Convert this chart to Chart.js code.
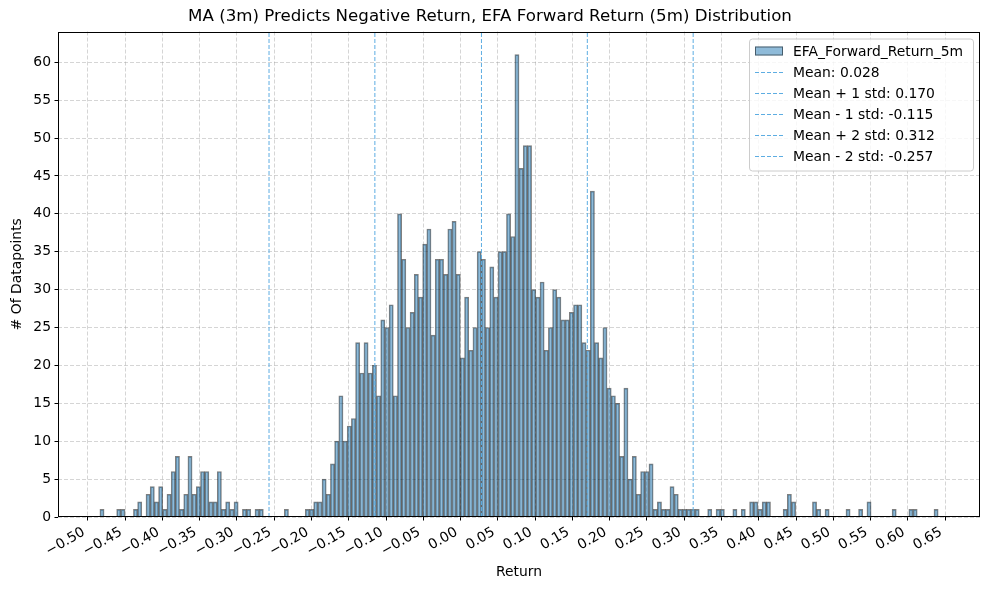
<!DOCTYPE html>
<html>
<head>
<meta charset="utf-8">
<script src="https://cdn.jsdelivr.net/npm/chart.js@4.4.0/dist/chart.umd.min.js"></script>
<style>
  html, body { margin: 0; padding: 0; background: #fff; }
  canvas { display: block; }
</style>
</head>
<body>
<canvas id="histChart" width="989" height="590"></canvas>
<script>
// histogram: 200 bins, left edge + width
const binStart = -0.4839;
const binWidth = 0.005623;
const counts = [
  1, 0, 0, 0, 1, 1, 0, 0, 1, 2,
  0, 3, 4, 2, 4, 1, 3, 6, 8, 1,
  3, 8, 3, 4, 6, 6, 2, 2, 6, 1,
  2, 1, 2, 0, 1, 1, 0, 1, 1, 0,
  0, 0, 0, 0, 1, 0, 0, 0, 0, 1,
  1, 2, 2, 5, 3, 7, 10, 16, 10, 12,
  13, 23, 19, 23, 19, 20, 16, 26, 25, 28,
  16, 40, 34, 25, 27, 32, 29, 36, 38, 24,
  34, 34, 32, 38, 39, 32, 21, 29, 22, 25,
  35, 34, 25, 33, 29, 35, 35, 40, 37, 61,
  46, 49, 49, 30, 29, 31, 22, 25, 30, 29,
  26, 26, 27, 28, 28, 23, 22, 43, 23, 21,
  25, 17, 16, 15, 8, 17, 5, 8, 3, 6,
  6, 7, 1, 2, 1, 1, 4, 3, 1, 1,
  1, 1, 1, 0, 0, 1, 0, 1, 1, 0,
  0, 1, 0, 1, 0, 2, 2, 1, 2, 2,
  0, 0, 0, 1, 3, 2, 0, 0, 0, 0,
  2, 1, 0, 1, 0, 0, 0, 0, 1, 0,
  0, 1, 0, 2, 0, 0, 0, 0, 0, 1,
  0, 0, 0, 1, 1, 0, 0, 0, 0, 1
];

const seriesLabel = 'EFA_Forward_Return_5m';
const statLabels = ['Mean: 0.028', 'Mean + 1 std: 0.170', 'Mean - 1 std: -0.115', 'Mean + 2 std: 0.312', 'Mean - 2 std: -0.257'];
const statValues = [0.028, 0.170, -0.115, 0.312, -0.257];

const xTicks = [-0.50, -0.45, -0.40, -0.35, -0.30, -0.25, -0.20, -0.15, -0.10, -0.05, 0.00,
                0.05, 0.10, 0.15, 0.20, 0.25, 0.30, 0.35, 0.40, 0.45, 0.50, 0.55, 0.60, 0.65];
const yTicks = [0, 5, 10, 15, 20, 25, 30, 35, 40, 45, 50, 55, 60];

// axis limits
const xMin = -0.5401, xMax = 0.6968;
const yMax = 64.05;

const barFill = 'rgba(31, 119, 180, 0.5)';
const barEdge = 'rgba(0, 0, 0, 0.5)';
const statColor = '#5DADE2';
const gridColor = 'rgba(150, 150, 150, 0.4)';

Chart.defaults.font.family = "'DejaVu Sans', sans-serif";
Chart.defaults.color = '#000';

// bars at bin centres, empty bins left out
const barData = counts.map((c, i) => ({ x: binStart + (i + 0.5) * binWidth, y: c > 0 ? c : null }));

const datasets = [{
  type: 'bar',
  label: seriesLabel,
  data: barData,
  backgroundColor: barFill,
  borderColor: barEdge,
  borderWidth: 1,
  barPercentage: 1,
  categoryPercentage: 1,
  order: 2
}];
statValues.forEach((v, i) => {
  datasets.push({
    type: 'line',
    label: statLabels[i],
    data: [{ x: v, y: 0 }, { x: v, y: yMax }],
    borderColor: statColor,
    borderWidth: 1,
    borderDash: [4, 2],
    pointRadius: 0,
    fill: false,
    order: 1
  });
});

function fmtTick(v) {
  const s = Math.abs(v).toFixed(2);
  return v < -1e-9 ? '\u2212' + s : s;
}

// frame + legend box like matplotlib
const frameAndLegend = {
  id: 'frameAndLegend',
  afterDraw(chart) {
    const ctx = chart.ctx;
    const a = chart.chartArea;
    ctx.save();
    ctx.strokeStyle = '#000';
    ctx.lineWidth = 1;
    ctx.strokeRect(Math.round(a.left) + 0.5, Math.round(a.top) + 0.5,
                   Math.round(a.right - a.left) - 1, Math.round(a.bottom - a.top) - 1);

    const bw = 224, bh = 132;
    const bx = a.right - 7 - bw, by = a.top + 7;
    ctx.beginPath();
    ctx.roundRect(bx + 0.5, by + 0.5, bw, bh, 3);
    ctx.fillStyle = 'rgba(255,255,255,0.8)';
    ctx.fill();
    ctx.strokeStyle = '#cccccc';
    ctx.stroke();

    ctx.font = "13.9px 'DejaVu Sans', sans-serif";
    ctx.textBaseline = 'middle';
    ctx.textAlign = 'left';
    const hx = bx + 6, hw = 28, tx = bx + 44;
    chart.data.datasets.forEach((ds, i) => {
      const cy = by + 12.5 + i * 21.05;
      if (ds.type === 'bar') {
        ctx.fillStyle = barFill;
        ctx.fillRect(hx, cy - 4.5, hw, 9);
        ctx.strokeStyle = barEdge;
        ctx.strokeRect(hx + 0.5, cy - 4.5 + 0.5, hw - 1, 8);
      } else {
        ctx.strokeStyle = ds.borderColor;
        ctx.setLineDash(ds.borderDash);
        ctx.beginPath();
        ctx.moveTo(hx, Math.round(cy) + 0.5);
        ctx.lineTo(hx + hw, Math.round(cy) + 0.5);
        ctx.stroke();
        ctx.setLineDash([]);
      }
      ctx.fillStyle = '#000';
      ctx.fillText(ds.label, tx, cy + 1);
    });
    ctx.restore();
  }
};

new Chart(document.getElementById('histChart'), {
  data: { datasets: datasets },
  options: {
    responsive: false,
    animation: false,
    devicePixelRatio: 1,
    layout: { padding: { left: 0, right: 9, top: 0, bottom: 0 } },
    plugins: {
      legend: { display: false },
      tooltip: { enabled: false },
      title: {
        display: true,
        text: 'MA (3m) Predicts Negative Return, EFA Forward Return (5m) Distribution',
        font: { size: 16.67, weight: 'normal' },
        color: '#000',
        padding: { top: 7, bottom: 4.5 }
      }
    },
    scales: {
      x: {
        type: 'linear',
        min: xMin,
        max: xMax,
        offset: false,
        z: 1,
        afterBuildTicks: s => { s.ticks = xTicks.map(v => ({ value: v })); },
        afterFit: s => { s.height = 73; },
        grid: { offset: false, color: gridColor, lineWidth: 1, tickColor: '#000', tickLength: 3.5, tickWidth: 1 },
        border: { display: false, dash: [4, 2] },
        ticks: {
          autoSkip: false,
          minRotation: 30,
          maxRotation: 30,
          padding: 3.5,
          labelOffset: -4,
          font: { size: 13.9 },
          color: '#000',
          callback: v => fmtTick(v)
        },
        title: { display: true, text: 'Return', font: { size: 13.9 }, color: '#000', padding: { top: 0, bottom: 9.7 } }
      },
      y: {
        type: 'linear',
        min: 0,
        max: yMax,
        z: 1,
        afterBuildTicks: s => { s.ticks = yTicks.map(v => ({ value: v })); },
        afterFit: s => { s.width = 58; },
        grid: { color: gridColor, lineWidth: 1, tickColor: '#000', tickLength: 3.5, tickWidth: 1 },
        border: { display: false, dash: [4, 2] },
        ticks: { padding: 3.5, font: { size: 13.9 }, color: '#000' },
        title: { display: true, text: '# Of Datapoints', font: { size: 13.9 }, color: '#000', padding: { top: 8.7, bottom: 0 } }
      }
    }
  },
  plugins: [frameAndLegend]
});
</script>
</body>
</html>
